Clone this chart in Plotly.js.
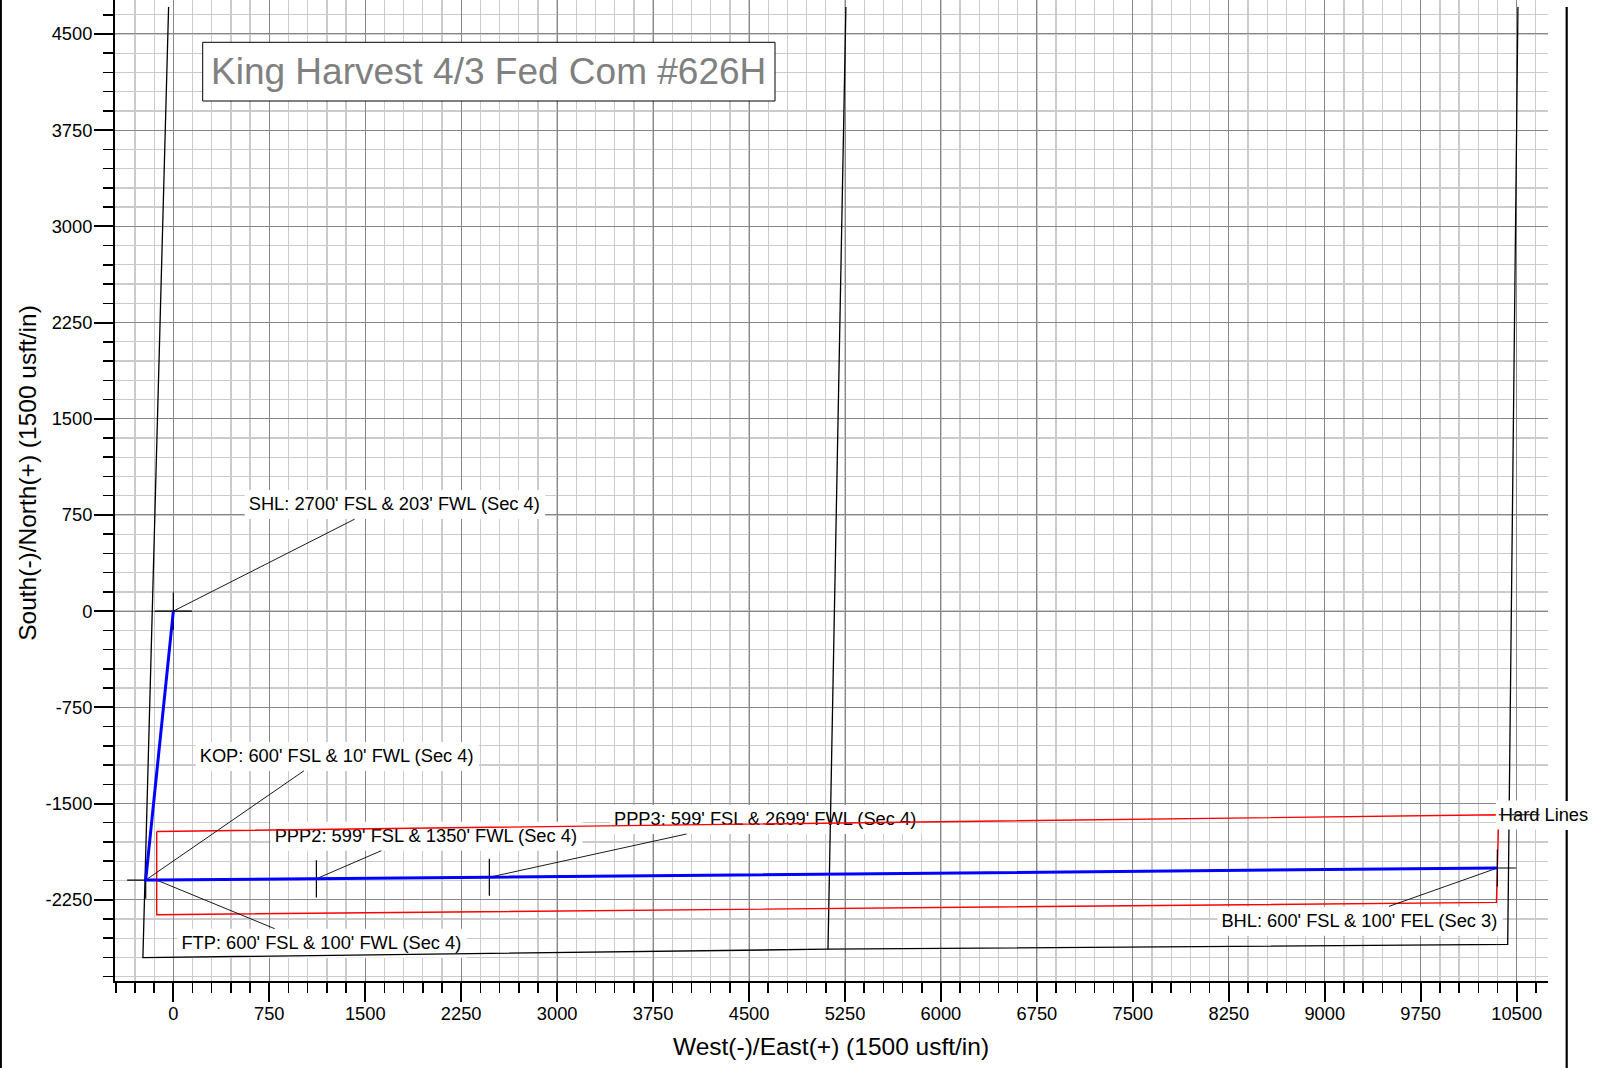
<!DOCTYPE html>
<html><head><meta charset="utf-8">
<script src="https://cdn.plot.ly/plotly-3.0.1.min.js"></script>
<style>html,body{margin:0;padding:0;background:#fff;} #chart{width:1599px;height:1068px;}</style>
</head><body><div id="chart"></div>
<script>
const FONT = '"Liberation Sans", Arial, Helvetica, sans-serif';

// ---- Data (usft, East(+) / North(+)) ----
const stationNames = ['SHL', 'KOP', 'FTP', 'PPP2', 'PPP3', 'BHL'];
const wellEast  = [0, -216, -133, 1118, 2470, 10349];
const wellNorth = [0, -2097, -2096, -2087, -2075, -2003];

const hardLinesEast  = [-130, 10360, 10342, -130, -130];
const hardLinesNorth = [-1718, -1588, -2271, -2367, -1718];

const leaseOuterEast  = [-37, -238, 5117, 10430, 10510];
const leaseOuterNorth = [4710, -2702, -2636, -2599, 4710];
const leaseMidEast  = [5257, 5117];
const leaseMidNorth = [4710, -2636];

const labelTexts = [
  "SHL: 2700' FSL & 203' FWL (Sec 4)",
  "KOP: 600' FSL & 10' FWL (Sec 4)",
  "FTP: 600' FSL & 100' FWL (Sec 4)",
  "PPP2: 599' FSL & 1350' FWL (Sec 4)",
  "PPP3: 599' FSL & 2699' FWL (Sec 4)",
  "BHL: 600' FSL & 100' FEL (Sec 3)"
];
const labelEast  = [589, 206, 63, 792, 3444, 8192];
const labelNorth = [822, -1143, -2598, -1764, -1634, -2426];
const leaderEndEast  = [1417, 1021, 792, 1626, 4010, 9502];
const leaderEndNorth = [717, -1245, -2476, -1868, -1738, -2302];

const hardLabelText = 'Hard Lines';
const hardLabelEast = [10368];
const hardLabelNorth = [-1599];
const hardLeaderEast = [10360, 10680];
const hardLeaderNorth = [-1588, -1588];

const crossStations = ['SHL', 'KOP', 'BHL'];
const tickStations = ['PPP2', 'PPP3'];

const xTickVals = [0, 750, 1500, 2250, 3000, 3750, 4500, 5250, 6000, 6750, 7500, 8250, 9000, 9750, 10500];
const xTickText = ['0', '750', '1500', '2250', '3000', '3750', '4500', '5250', '6000', '6750', '7500', '8250', '9000', '9750', '10500'];
const yTickVals = [-2250, -1500, -750, 0, 750, 1500, 2250, 3000, 3750, 4500];
const yTickText = ['-2250', '-1500', '-750', '0', '750', '1500', '2250', '3000', '3750', '4500'];

const chartTitle = 'King Harvest 4/3 Fed Com #626H';
const xTitle = 'West(-)/East(+) (1500 usft/in)';
const yTitle = 'South(-)/North(+) (1500 usft/in)';

// ---- Layout geometry ----
const L = 115, W = 1433, T = 0, H = 981, FIGW = 1599, FIGH = 1068;
const xRange = [-456, 10745], yRange = [-2884, 4765];
const LABEL_SIZE = 18.3;
function pxOfX(x) { return L + (x - xRange[0]) / (xRange[1] - xRange[0]) * W; }
function xOfPx(p) { return xRange[0] + (p - L) / W * (xRange[1] - xRange[0]); }
function pxOfY(y) { return T + (yRange[1] - y) / (yRange[1] - yRange[0]) * H; }
function yOfPx(p) { return yRange[1] - (p - T) / H * (yRange[1] - yRange[0]); }
function paperX(px) { return (px - L) / W; }
function paperY(py) { return (T + H - py) / H; }

const ctx = document.createElement('canvas').getContext('2d');
ctx.font = LABEL_SIZE + 'px "Liberation Sans", Arial, sans-serif';

function boxTrace(lx, ly, text) {
  const w = ctx.measureText(text).width;
  const left = pxOfX(lx) - 4, right = pxOfX(lx) + w + 4;
  const base = pxOfY(ly) + 6.4;
  const top = base - 22, bot = base + 7;
  return {
    x: [xOfPx(left), xOfPx(right), xOfPx(right), xOfPx(left), xOfPx(left)],
    y: [yOfPx(top), yOfPx(top), yOfPx(bot), yOfPx(bot), yOfPx(top)],
    mode: 'lines', fill: 'toself', fillcolor: '#ffffff',
    line: {width: 0, color: 'rgba(255,255,255,0)'}, hoverinfo: 'skip', showlegend: false
  };
}
function idx(name) { return stationNames.indexOf(name); }

const traces = [];
labelTexts.forEach((t, i) => traces.push(boxTrace(labelEast[i], labelNorth[i], t)));
traces.push({
  x: labelEast, y: labelNorth, text: labelTexts, mode: 'text', textposition: 'middle right',
  textfont: {family: FONT, size: LABEL_SIZE, color: '#000'}, hoverinfo: 'skip', showlegend: false, cliponaxis: false
});
traces.push({x: leaseOuterEast, y: leaseOuterNorth, mode: 'lines', line: {color: '#000', width: 1.3}, hoverinfo: 'skip', showlegend: false});
traces.push({x: leaseMidEast, y: leaseMidNorth, mode: 'lines', line: {color: '#000', width: 1.3}, hoverinfo: 'skip', showlegend: false});
traces.push({x: hardLinesEast, y: hardLinesNorth, mode: 'lines', line: {color: '#ff0000', width: 1.4}, hoverinfo: 'skip', showlegend: false});
traces.push(boxTrace(hardLabelEast[0], hardLabelNorth[0], hardLabelText));
traces.push({
  x: hardLabelEast, y: hardLabelNorth, text: [hardLabelText], mode: 'text', textposition: 'middle right',
  textfont: {family: FONT, size: LABEL_SIZE, color: '#000'}, hoverinfo: 'skip', showlegend: false, cliponaxis: false
});
traces.push({x: hardLeaderEast, y: hardLeaderNorth, mode: 'lines', line: {color: '#000', width: 1}, hoverinfo: 'skip', showlegend: false, cliponaxis: false});
const ldx = [], ldy = [];
labelTexts.forEach((t, i) => {
  const s = idx(stationNames[i]);
  ldx.push(wellEast[s], leaderEndEast[i], null);
  ldy.push(wellNorth[s], leaderEndNorth[i], null);
});
traces.push({x: ldx, y: ldy, mode: 'lines', line: {color: '#000', width: 0.9}, hoverinfo: 'skip', showlegend: false});
const HALF = 145;
const cx = [], cy = [];
crossStations.forEach(n => {
  const s = idx(n);
  cx.push(wellEast[s] - HALF, wellEast[s] + HALF, null, wellEast[s], wellEast[s], null);
  cy.push(wellNorth[s], wellNorth[s], null, wellNorth[s] - HALF, wellNorth[s] + HALF, null);
});
tickStations.forEach(n => {
  const s = idx(n);
  cx.push(wellEast[s], wellEast[s], null);
  cy.push(wellNorth[s] - HALF, wellNorth[s] + HALF, null);
});
traces.push({x: cx, y: cy, mode: 'lines', line: {color: '#000', width: 1.2}, hoverinfo: 'skip', showlegend: false});
traces.push({x: wellEast, y: wellNorth, mode: 'lines', line: {color: '#0000ff', width: 3}, hoverinfo: 'skip', showlegend: false});

const axisCommon = {
  showline: true, linecolor: '#000', linewidth: 2, mirror: false,
  ticks: 'outside', ticklen: 19, tickwidth: 2, tickcolor: '#000',
  showgrid: true, gridcolor: '#878787', gridwidth: 1,
  zeroline: false, tickmode: 'array',
  tickfont: {family: FONT, size: 18.3, color: '#000'},
  minor: {tickmode: 'linear', tick0: 0, dtick: 150, ticks: 'outside', ticklen: 10, tickwidth: 1.5, tickcolor: '#000',
          showgrid: true, gridcolor: '#cbcbcb', gridwidth: 1.3},
  fixedrange: true
};

const layout = {
  width: FIGW, height: FIGH,
  margin: {l: L, r: FIGW - L - W, t: T, b: FIGH - T - H, pad: 0},
  paper_bgcolor: '#fff', plot_bgcolor: '#fff',
  showlegend: false, hovermode: false,
  xaxis: Object.assign({}, axisCommon, {range: xRange, tickvals: xTickVals, ticktext: xTickText, ticklabelstandoff: -4}),
  yaxis: Object.assign({}, axisCommon, {range: yRange, tickvals: yTickVals, ticktext: yTickText, ticklabelstandoff: -2}),
  shapes: [
    {type: 'rect', xref: 'paper', yref: 'paper', x0: paperX(202.7), x1: paperX(775), y0: paperY(101), y1: paperY(42.3),
     fillcolor: '#fff', line: {color: '#000', width: 1}, layer: 'above'},
    {type: 'line', xref: 'paper', yref: 'paper', x0: paperX(0.9), x1: paperX(0.9), y0: paperY(0), y1: paperY(FIGH),
     line: {color: '#000', width: 2}},
    {type: 'line', xref: 'paper', yref: 'paper', x0: paperX(1566.7), x1: paperX(1566.7), y0: paperY(7), y1: paperY(801),
     line: {color: '#000', width: 2.2}},
    {type: 'line', xref: 'paper', yref: 'paper', x0: paperX(1566.7), x1: paperX(1566.7), y0: paperY(830), y1: paperY(FIGH),
     line: {color: '#000', width: 2.2}}
  ],
  annotations: [
    {text: chartTitle, xref: 'paper', yref: 'paper', x: paperX(209), y: paperY(71.7), xanchor: 'left', yanchor: 'middle',
     showarrow: false, font: {family: FONT, size: 37, color: '#808080'}},
    {text: xTitle, xref: 'paper', yref: 'paper', x: paperX(831), y: paperY(1046), xanchor: 'center', yanchor: 'middle',
     showarrow: false, font: {family: FONT, size: 24.5, color: '#000'}},
    {text: yTitle, xref: 'paper', yref: 'paper', x: paperX(27.5), y: paperY(473.3), xanchor: 'center', yanchor: 'middle',
     textangle: -90, showarrow: false, font: {family: FONT, size: 24.5, color: '#000'}}
  ]
};

Plotly.newPlot('chart', traces, layout, {staticPlot: true, displayModeBar: false});
</script>
</body></html>
